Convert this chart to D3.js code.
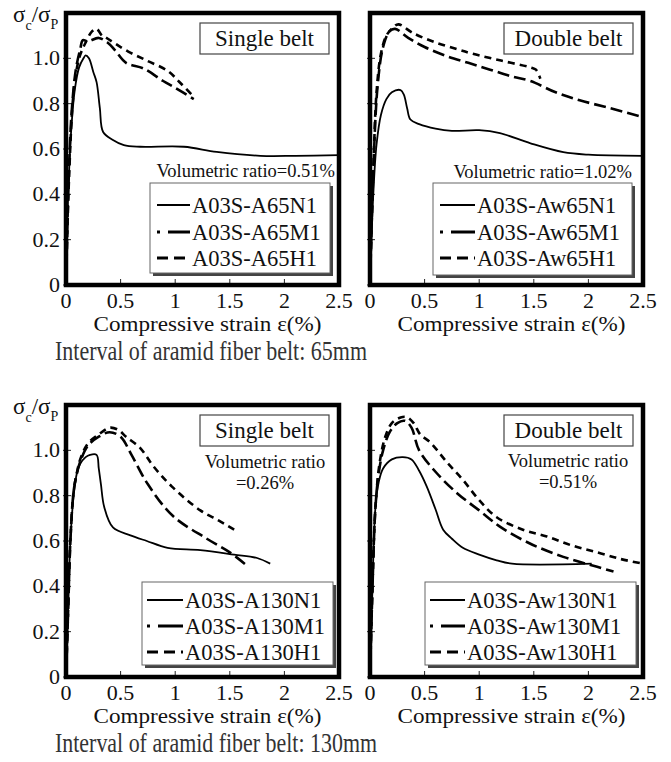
<!doctype html>
<html>
<meta charset="UTF-8">
<head>
<title>Stress-strain curves</title>
<script src="https://cdn.jsdelivr.net/npm/d3@7"></script>
<style>
  body { margin: 0; background: #fff; }
  svg text { font-family: "Liberation Serif", "Times New Roman", serif; fill: #111; }
</style>
</head>
<body>
<script>
// axis ticks
var xTicks = [0, 0.5, 1, 1.5, 2, 2.5];
var xTickLabels = ["0", "0.5", "1", "1.5", "2", "2.5"];
var yTicks = [0, 0.2, 0.4, 0.6, 0.8, 1.0];
var yTickLabels = ["0", "0.2", "0.4", "0.6", "0.8", "1.0"];

// 65mm, single belt
var a65N1 = [[0,0],[0.02,0.4],[0.05,0.7],[0.08,0.86],[0.12,0.96],[0.16,1.0],[0.18,1.013],[0.21,1.0],[0.25,0.94],[0.28,0.895],[0.31,0.78],[0.34,0.675],[0.43,0.64],[0.53,0.617],[0.68,0.61],[1.08,0.61],[1.38,0.587],[1.78,0.57],[2.1,0.57],[2.5,0.573]];
var a65M1 = [[0,0],[0.02,0.4],[0.05,0.75],[0.09,0.95],[0.13,1.04],[0.155,1.08],[0.2,1.075],[0.3,1.09],[0.38,1.07],[0.45,1.035],[0.55,0.98],[0.71,0.955],[0.89,0.9],[1.0,0.87],[1.17,0.82]];
var a65H1 = [[0,0],[0.03,0.5],[0.07,0.85],[0.12,1.0],[0.18,1.07],[0.24,1.12],[0.28,1.13],[0.33,1.1],[0.37,1.09],[0.45,1.065],[0.57,1.03],[0.74,0.99],[0.93,0.945],[1.05,0.89],[1.17,0.83]];

// 65mm, double belt
var aw65N1 = [[0,0],[0.03,0.4],[0.06,0.62],[0.1,0.75],[0.15,0.82],[0.2,0.85],[0.28,0.86],[0.31,0.84],[0.34,0.78],[0.37,0.73],[0.45,0.71],[0.6,0.69],[0.75,0.68],[1.0,0.683],[1.19,0.67],[1.47,0.625],[1.77,0.586],[2.0,0.575],[2.5,0.57]];
var aw65M1 = [[0,0],[0.03,0.5],[0.07,0.88],[0.12,1.05],[0.18,1.12],[0.23,1.13],[0.35,1.09],[0.5,1.05],[0.7,1.01],[0.9,0.98],[1.1,0.95],[1.3,0.92],[1.47,0.9],[1.7,0.85],[1.92,0.815],[2.2,0.78],[2.5,0.74]];
var aw65H1 = [[0,0],[0.03,0.5],[0.06,0.85],[0.1,1.02],[0.15,1.1],[0.22,1.14],[0.26,1.15],[0.4,1.11],[0.6,1.07],[0.8,1.04],[0.94,1.02],[1.2,0.99],[1.47,0.96],[1.52,0.95],[1.56,0.91]];

// 130mm, single belt
var a130N1 = [[0,0],[0.02,0.3],[0.04,0.6],[0.07,0.8],[0.1,0.9],[0.13,0.94],[0.18,0.97],[0.22,0.98],[0.28,0.98],[0.3,0.92],[0.32,0.85],[0.35,0.75],[0.43,0.66],[0.59,0.625],[0.74,0.6],[0.93,0.57],[1.23,0.56],[1.54,0.54],[1.75,0.525],[1.87,0.5]];
var a130M1 = [[0,0],[0.02,0.3],[0.04,0.6],[0.07,0.82],[0.1,0.9],[0.13,0.95],[0.2,1.02],[0.3,1.06],[0.4,1.08],[0.5,1.06],[0.6,0.98],[0.75,0.85],[0.98,0.71],[1.29,0.61],[1.5,0.55],[1.66,0.49]];
var a130H1 = [[0,0],[0.02,0.3],[0.04,0.6],[0.07,0.82],[0.1,0.9],[0.13,0.96],[0.2,1.03],[0.3,1.07],[0.4,1.1],[0.48,1.09],[0.55,1.06],[0.68,1.01],[0.8,0.93],[0.97,0.84],[1.23,0.735],[1.4,0.69],[1.54,0.65]];

// 130mm, double belt
var aw130N1 = [[0,0],[0.02,0.35],[0.05,0.75],[0.08,0.86],[0.12,0.92],[0.2,0.96],[0.3,0.97],[0.38,0.96],[0.45,0.91],[0.52,0.84],[0.6,0.74],[0.67,0.65],[0.75,0.61],[0.85,0.57],[1.0,0.54],[1.16,0.515],[1.3,0.5],[2.03,0.5]];
var aw130M1 = [[0,0],[0.02,0.35],[0.05,0.75],[0.08,0.9],[0.12,1.0],[0.18,1.08],[0.25,1.12],[0.32,1.13],[0.38,1.1],[0.45,1.0],[0.61,0.9],[0.8,0.81],[1.0,0.735],[1.2,0.66],[1.46,0.59],[1.77,0.53],[2.08,0.486],[2.23,0.465]];
var aw130H1 = [[0,0],[0.02,0.35],[0.05,0.75],[0.09,0.95],[0.14,1.06],[0.2,1.12],[0.28,1.145],[0.34,1.146],[0.4,1.12],[0.46,1.07],[0.55,1.036],[0.7,0.95],[0.85,0.87],[1.0,0.78],[1.16,0.705],[1.4,0.65],[1.62,0.62],[1.85,0.58],[2.08,0.55],[2.3,0.52],[2.5,0.5]];

var names65s = ["A03S-A65N1", "A03S-A65M1", "A03S-A65H1"];
var names65d = ["A03S-Aw65N1", "A03S-Aw65M1", "A03S-Aw65H1"];
var names130s = ["A03S-A130N1", "A03S-A130M1", "A03S-A130H1"];
var names130d = ["A03S-Aw130N1", "A03S-Aw130M1", "A03S-Aw130H1"];

var width = 671, height = 762;
var svg = d3.select("body").append("svg")
  .attr("width", width).attr("height", height);

// line styles for N1 / M1 / H1
var styles = [
  {w: 1.8, dash: null, legDash: null},
  {w: 2.6, dash: "12,5", legDash: "3,8,24,0"},
  {w: 2.6, dash: "7,5", legDash: "11,6"}
];

var panels = [
  {x0: 66, x1: 339, yb: 285, yt: 13, series: [a65N1, a65M1, a65H1], names: names65s, title: "Single belt",
   leg: {x: 150, y: 183, w: 180, h: 90, lx: 7, lx2: 40, rows: [22, 49, 75]},
   vol: ["Volumetric ratio=0.51%"], volX: 335, volY: 177, volAnchor: "end"},
  {x0: 370, x1: 643, yb: 285, yt: 13, series: [aw65N1, aw65M1, aw65H1], names: names65d, title: "Double belt",
   leg: {x: 433, y: 183, w: 199, h: 92, lx: 7, lx2: 42, rows: [22, 49, 75]},
   vol: ["Volumetric ratio=1.02%"], volX: 632, volY: 178, volAnchor: "end"},
  {x0: 66, x1: 339, yb: 677, yt: 405, series: [a130N1, a130M1, a130H1], names: names130s, title: "Single belt",
   leg: {x: 142, y: 582, w: 191, h: 83, lx: 5, lx2: 41, rows: [18, 44, 70]},
   vol: ["Volumetric ratio", "=0.26%"], volX: 265, volY: 468, volAnchor: "middle"},
  {x0: 370, x1: 643, yb: 677, yt: 405, series: [aw130N1, aw130M1, aw130H1], names: names130d, title: "Double belt",
   leg: {x: 425, y: 582, w: 211, h: 83, lx: 5, lx2: 40, rows: [18, 44, 70]},
   vol: ["Volumetric ratio", "=0.51%"], volX: 568, volY: 467, volAnchor: "middle"}
];

panels.forEach(function(p, pi) {
  var x = d3.scaleLinear().domain([0, 2.5]).range([p.x0, p.x1]);
  var y = d3.scaleLinear().domain([0, 1.2]).range([p.yb, p.yt]);
  var g = svg.append("g");

  g.append("clipPath").attr("id", "clip" + pi)
    .append("rect").attr("x", p.x0).attr("y", p.yt)
    .attr("width", p.x1 - p.x0).attr("height", p.yb - p.yt);

  // ticks, pointing inward
  g.selectAll(".xt").data(xTicks).enter().append("line")
    .attr("x1", function(d) { return x(d); }).attr("x2", function(d) { return x(d); })
    .attr("y1", p.yb).attr("y2", p.yb - 6)
    .attr("stroke", "#222").attr("stroke-width", 1);
  g.selectAll(".yt").data(yTicks).enter().append("line")
    .attr("x1", p.x0 - 3).attr("x2", p.x0 + 5)
    .attr("y1", function(d) { return y(d); }).attr("y2", function(d) { return y(d); })
    .attr("stroke", "#222").attr("stroke-width", 1);

  // tick labels
  g.selectAll(".xl").data(xTicks).enter().append("text")
    .attr("x", function(d) { return x(d); })
    .attr("y", p.yb + 23)
    .attr("text-anchor", "middle")
    .attr("font-size", 22)
    .text(function(d, i) { return xTickLabels[i]; });

  if (p.x0 < 100) {
    g.selectAll(".yl").data(yTicks).enter().append("text")
      .attr("x", 60)
      .attr("y", function(d) { return y(d) + 7; })
      .attr("text-anchor", "end")
      .attr("font-size", 22)
      .text(function(d, i) { return yTickLabels[i]; });

    var lab = g.append("text").attr("x", 13).attr("y", p.yt + 9).attr("font-size", 23);
    lab.append("tspan").text("σ");
    lab.append("tspan").attr("font-size", 14).attr("dy", 8).text("c");
    lab.append("tspan").attr("dy", -8).text("/σ");
    lab.append("tspan").attr("font-size", 14).attr("dy", 7).text("P");
  }

  g.append("text")
    .attr("x", (p.x0 + p.x1) / 2 + 5)
    .attr("y", p.yb + 46)
    .attr("text-anchor", "middle")
    .attr("font-size", 22)
    .attr("textLength", 228)
    .attr("lengthAdjust", "spacingAndGlyphs")
    .text("Compressive strain  ε(%)");

  // curves
  var line = d3.line()
    .x(function(d) { return x(d[0]); })
    .y(function(d) { return y(d[1]); })
    .curve(d3.curveCatmullRom.alpha(0.5));

  p.series.forEach(function(s, si) {
    g.append("path").datum(s)
      .attr("clip-path", "url(#clip" + pi + ")")
      .attr("d", line)
      .attr("fill", "none")
      .attr("stroke", "#000")
      .attr("stroke-width", styles[si].w)
      .attr("stroke-dasharray", styles[si].dash);
  });

  // frame
  g.append("rect")
    .attr("x", p.x0).attr("y", p.yt)
    .attr("width", p.x1 - p.x0).attr("height", p.yb - p.yt)
    .attr("fill", "none").attr("stroke", "#000").attr("stroke-width", 4.5);

  // title box
  g.append("rect")
    .attr("x", p.x0 + 134).attr("y", p.yt + 10)
    .attr("width", 129).attr("height", 31)
    .attr("fill", "#fff").attr("stroke", "#444").attr("stroke-width", 1.2);
  g.append("text")
    .attr("x", p.x0 + 198.5).attr("y", p.yt + 33)
    .attr("text-anchor", "middle").attr("font-size", 23)
    .text(p.title);

  // volumetric ratio
  p.vol.forEach(function(t, i) {
    g.append("text")
      .attr("x", p.volX).attr("y", p.volY + i * 21)
      .attr("text-anchor", p.volAnchor)
      .attr("font-size", 18.5)
      .text(t);
  });

  // legend
  var L = p.leg;
  g.append("rect").attr("x", L.x + 3).attr("y", L.y + 3)
    .attr("width", L.w).attr("height", L.h).attr("fill", "#444");
  g.append("rect").attr("x", L.x).attr("y", L.y)
    .attr("width", L.w).attr("height", L.h)
    .attr("fill", "#fff").attr("stroke", "#666").attr("stroke-width", 1);
  p.names.forEach(function(n, i) {
    var yy = L.y + L.rows[i];
    g.append("line")
      .attr("x1", L.x + L.lx).attr("x2", L.x + L.lx2)
      .attr("y1", yy).attr("y2", yy)
      .attr("stroke", "#000")
      .attr("stroke-width", styles[i].w + 0.4)
      .attr("stroke-dasharray", styles[i].legDash);
    g.append("text")
      .attr("x", L.x + L.lx2 + 2).attr("y", yy + 8)
      .attr("font-size", 22.5)
      .text(n);
  });
});

svg.append("text").attr("x", 55).attr("y", 360)
  .attr("font-size", 28).style("fill", "#333")
  .attr("textLength", 312).attr("lengthAdjust", "spacingAndGlyphs")
  .text("Interval of aramid fiber belt: 65mm");
svg.append("text").attr("x", 55).attr("y", 752)
  .attr("font-size", 27).style("fill", "#333")
  .attr("textLength", 322).attr("lengthAdjust", "spacingAndGlyphs")
  .text("Interval of aramid fiber belt: 130mm");
</script>
</body>
</html>
